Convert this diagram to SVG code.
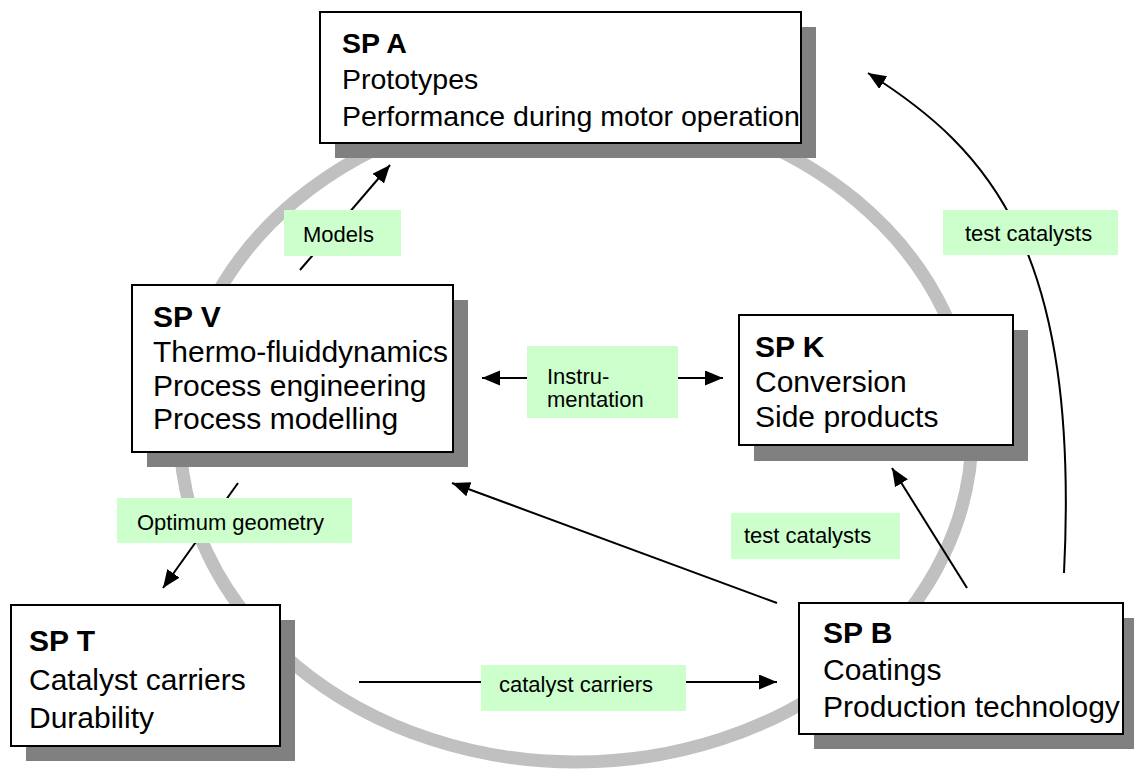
<svg xmlns="http://www.w3.org/2000/svg" width="1134" height="773" viewBox="0 0 1134 773">
<defs>
<marker id="arr" markerUnits="userSpaceOnUse" markerWidth="20" markerHeight="16" refX="18" refY="7.5" orient="auto-start-reverse">
<path d="M0,0 L18,7.5 L0,15 z" fill="#000"/>
</marker>
<style>
.ring{fill:none;stroke:#C0C0C0;stroke-width:13}
.box{fill:#fff;stroke:#000;stroke-width:2}
.sh{fill:#808080}
.t{font-family:"Liberation Sans",Arial,sans-serif;font-size:30px;fill:#000}
.a{font-size:28.5px}
.b{font-weight:bold}
.c{fill:none;stroke:#000;stroke-width:2}
.lb{fill:#CCFFCC}
.lt{font-family:"Liberation Sans",Arial,sans-serif;font-size:22px;fill:#000}
</style>
</defs>
<rect width="1134" height="773" fill="#fff"/>
<ellipse class="ring" cx="576" cy="433" rx="396" ry="329"/>

<g id="connectors">
<line class="c" x1="300" y1="270" x2="390" y2="165" marker-end="url(#arr)"/>
<line class="c" x1="482" y1="378" x2="723" y2="378" marker-start="url(#arr)" marker-end="url(#arr)"/>
<line class="c" x1="238" y1="483" x2="163" y2="588" marker-end="url(#arr)"/>
<line class="c" x1="359" y1="682" x2="777" y2="682" marker-end="url(#arr)"/>
<line class="c" x1="777" y1="603" x2="452" y2="483" marker-end="url(#arr)"/>
<line class="c" x1="967" y1="588" x2="892" y2="468" marker-end="url(#arr)"/>
<path class="c" d="M1064,573 C1080,250 990,150 868,73" marker-end="url(#arr)"/>
<g id="lbl-models"><rect class="lb" x="284" y="210" width="117" height="46"/><text class="lt" x="303" y="242">Models</text></g>
<g id="lbl-instr"><rect class="lb" x="527" y="346" width="151" height="72"/><text class="lt" x="547" y="384">Instru-</text><text class="lt" x="547" y="407">mentation</text></g>
<g id="lbl-optimum"><rect class="lb" x="117" y="498" width="235" height="45"/><text class="lt" x="137" y="530">Optimum geometry</text></g>
<g id="lbl-carriers"><rect class="lb" x="481" y="665" width="205" height="46"/><text class="lt" x="499" y="692">catalyst carriers</text></g>
<g id="lbl-test1"><rect class="lb" x="731" y="513" width="169" height="46"/><text class="lt" x="744" y="543">test catalysts</text></g>
<g id="lbl-test2"><rect class="lb" x="943" y="210" width="175" height="45"/><text class="lt" x="965" y="241">test catalysts</text></g>
</g>

<g id="spA">
<rect class="sh" x="335" y="27" width="481" height="131"/>
<rect class="box" x="320" y="12" width="481" height="131"/>
<text class="t a b" x="342" y="53">SP A</text>
<text class="t a" x="342" y="89">Prototypes</text>
<text class="t a" x="342" y="126">Performance during motor operation</text>
</g>

<g id="spV">
<rect class="sh" x="147" y="300" width="321" height="167"/>
<rect class="box" x="132" y="285" width="321" height="167"/>
<text class="t b" x="153" y="327">SP V</text>
<text class="t" x="153" y="362">Thermo-fluiddynamics</text>
<text class="t" x="153" y="396">Process engineering</text>
<text class="t" x="153" y="429">Process modelling</text>
</g>

<g id="spK">
<rect class="sh" x="754" y="330" width="274" height="131"/>
<rect class="box" x="739" y="315" width="274" height="130"/>
<text class="t b" x="755" y="357">SP K</text>
<text class="t" x="755" y="392">Conversion</text>
<text class="t" x="755" y="427">Side products</text>
</g>

<g id="spT">
<rect class="sh" x="26" y="620" width="269" height="141"/>
<rect class="box" x="11" y="605" width="269" height="141"/>
<text class="t b" x="29" y="651">SP T</text>
<text class="t" x="29" y="690">Catalyst carriers</text>
<text class="t" x="29" y="728">Durability</text>
</g>

<g id="spB">
<rect class="sh" x="814" y="618" width="320" height="131"/>
<rect class="box" x="799" y="603" width="324" height="131"/>
<text class="t b" x="823" y="643">SP B</text>
<text class="t" x="823" y="680">Coatings</text>
<text class="t" x="823" y="717">Production technology</text>
</g>
</svg>
